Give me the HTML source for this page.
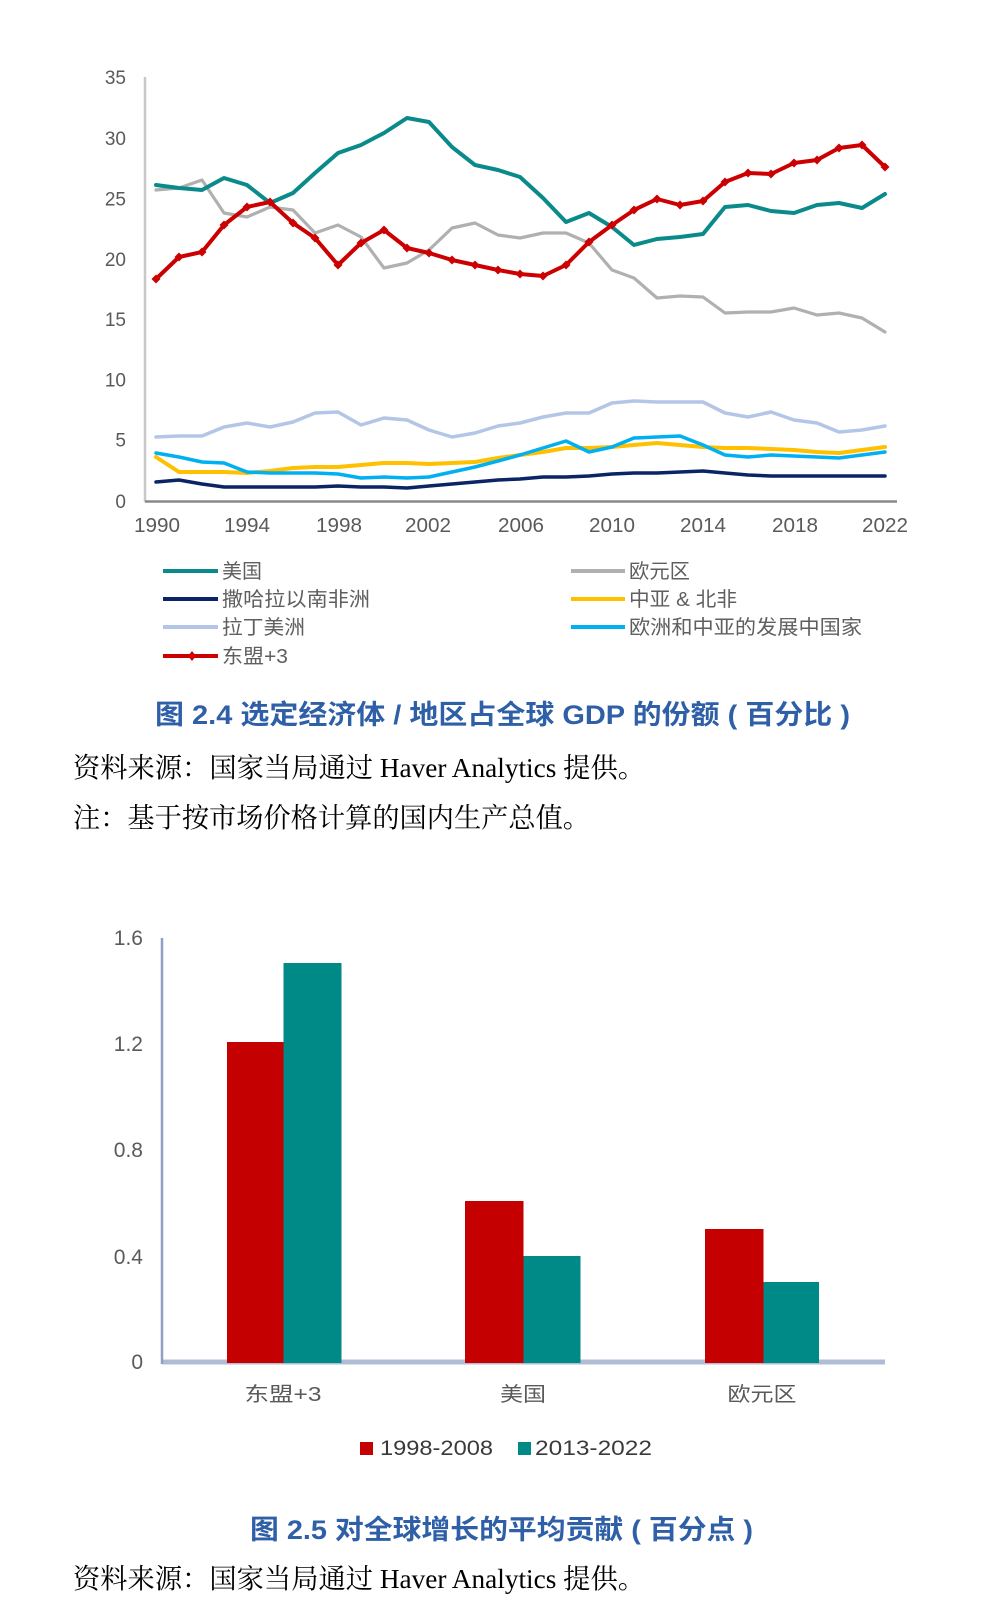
<!DOCTYPE html>
<html>
<head>
<meta charset="utf-8">
<style>
html,body{margin:0;padding:0;background:#fff;}
svg{display:block;}
.tick{font-family:"Liberation Sans","Noto Sans CJK SC",sans-serif;fill:#5a5a5a;}
.leg{font-family:"Liberation Sans","Noto Sans CJK SC",sans-serif;fill:#5f5f5f;font-size:20px;}
.cap{font-family:"Liberation Sans","Noto Sans CJK SC",sans-serif;fill:#2f5fa7;font-weight:bold;font-size:27px;}
.src{font-family:"Liberation Serif","Noto Serif CJK SC",serif;fill:#000;font-size:27.5px;}
</style>
</head>
<body>
<svg width="992" height="1624" viewBox="0 0 992 1624" xmlns="http://www.w3.org/2000/svg">
<defs>
<marker id="dm" viewBox="0 0 10 10" refX="5" refY="5" markerWidth="9" markerHeight="9" markerUnits="userSpaceOnUse">
<path d="M5 0 L10 5 L5 10 L0 5Z" fill="#cc0000"/>
</marker>
</defs>
<rect width="992" height="1624" fill="#fff"/>

<!-- ===== Chart 1 ===== -->
<line x1="145" y1="77" x2="145" y2="502" stroke="#c8c8c8" stroke-width="2.5"/>
<line x1="145" y1="501.5" x2="897" y2="501.5" stroke="#8a8a8a" stroke-width="2.5"/>

<g class="tick" font-size="19" text-anchor="end">
<text x="126" y="84">35</text>
<text x="126" y="145">30</text>
<text x="126" y="205.5">25</text>
<text x="126" y="266">20</text>
<text x="126" y="326">15</text>
<text x="126" y="386.5">10</text>
<text x="126" y="446.5">5</text>
<text x="126" y="508">0</text>
</g>
<g class="tick" font-size="20" text-anchor="middle">
<text x="157" y="532" textLength="46" lengthAdjust="spacingAndGlyphs">1990</text>
<text x="247" y="532" textLength="46" lengthAdjust="spacingAndGlyphs">1994</text>
<text x="339" y="532" textLength="46" lengthAdjust="spacingAndGlyphs">1998</text>
<text x="428" y="532" textLength="46" lengthAdjust="spacingAndGlyphs">2002</text>
<text x="521" y="532" textLength="46" lengthAdjust="spacingAndGlyphs">2006</text>
<text x="612" y="532" textLength="46" lengthAdjust="spacingAndGlyphs">2010</text>
<text x="703" y="532" textLength="46" lengthAdjust="spacingAndGlyphs">2014</text>
<text x="795" y="532" textLength="46" lengthAdjust="spacingAndGlyphs">2018</text>
<text x="885" y="532" textLength="46" lengthAdjust="spacingAndGlyphs">2022</text>
</g>

<g fill="none" stroke-linejoin="round" stroke-linecap="round">
<!-- Eurozone gray -->
<polyline stroke="#b0b0b0" stroke-width="3.2" points="156,190 179,188 202,180 224,213 247,217 270,207 293,210 315,233 338,225 361,237 384,268 407,263 429,250 452,228 475,223 498,235 520,238 543,233 566,233 589,243 612,270 634,278 657,298 680,296 703,297 725,313 748,312 771,312 794,308 817,315 839,313 862,318 885,332"/>
<!-- US teal -->
<polyline stroke="#0a8a8a" stroke-width="4" points="156,185 179,188 202,190 224,178 247,185 270,203 293,193 315,173 338,153 361,145 384,133 407,118 429,122 452,147 475,165 498,170 520,177 543,198 566,222 589,213 612,227 634,245 657,239 680,237 703,234 725,207 748,205 771,211 794,213 817,205 839,203 862,208 885,194"/>
<!-- Latin America light blue -->
<polyline stroke="#b4c6e7" stroke-width="3.5" points="156,437 179,436 202,436 224,427 247,423 270,427 293,422 315,413 338,412 361,425 384,418 407,420 429,430 452,437 475,433 498,426 520,423 543,417 566,413 589,413 612,403 634,401 657,402 680,402 703,402 725,413 748,417 771,412 794,420 817,423 839,432 862,430 885,426"/>
<!-- Sub-Saharan navy -->
<polyline stroke="#0a2466" stroke-width="3.5" points="156,482 179,480 202,484 224,487 247,487 270,487 293,487 315,487 338,486 361,487 384,487 407,488 429,486 452,484 475,482 498,480 520,479 543,477 566,477 589,476 612,474 634,473 657,473 680,472 703,471 725,473 748,475 771,476 794,476 817,476 839,476 862,476 885,476"/>
<!-- Yellow -->
<polyline stroke="#ffc000" stroke-width="4" points="156,457 179,472 202,472 224,472 247,473 270,471 293,468 315,467 338,467 361,465 384,463 407,463 429,464 452,463 475,462 498,458 520,455 543,452 566,448 589,448 612,447 634,445 657,443 680,445 703,447 725,448 748,448 771,449 794,450 817,452 839,453 862,450 885,447"/>
<!-- Cyan -->
<polyline stroke="#00b0f0" stroke-width="3.5" points="156,453 179,457 202,462 224,463 247,472 270,473 293,473 315,473 338,474 361,478 384,477 407,478 429,477 452,472 475,467 498,461 520,455 543,448 566,441 589,452 612,447 634,438 657,437 680,436 703,445 725,455 748,457 771,455 794,456 817,457 839,458 862,455 885,452"/>
<!-- ASEAN+3 red -->
<polyline stroke="#cc0000" stroke-width="4" marker-start="url(#dm)" marker-mid="url(#dm)" marker-end="url(#dm)" points="156,279 179,257 202,252 224,225 247,207 270,202 293,223 315,238 338,265 361,243 384,230 407,248 429,253 452,260 475,265 498,270 520,274 543,276 566,265 589,242 612,225 634,210 657,199 680,205 703,201 725,182 748,173 771,174 794,163 817,160 839,148 862,145 885,167"/>
</g>

<!-- Legend chart 1 -->
<line x1="163" y1="571" x2="218" y2="571" stroke="#0a8a8a" stroke-width="4"/>
<line x1="163" y1="599" x2="218" y2="599" stroke="#0a2466" stroke-width="4"/>
<line x1="163" y1="627" x2="218" y2="627" stroke="#b4c6e7" stroke-width="4"/>
<line x1="163" y1="656" x2="218" y2="656" stroke="#cc0000" stroke-width="4"/>
<path d="M192 651 L196 656 L192 661 L188 656Z" fill="#cc0000"/>
<text class="leg" x="222" y="578" textLength="40" lengthAdjust="spacingAndGlyphs">美国</text>
<text class="leg" x="222" y="606" textLength="148" lengthAdjust="spacingAndGlyphs">撒哈拉以南非洲</text>
<text class="leg" x="222" y="634" textLength="83" lengthAdjust="spacingAndGlyphs">拉丁美洲</text>
<text class="leg" x="222" y="663" textLength="66" lengthAdjust="spacingAndGlyphs">东盟+3</text>

<line x1="571" y1="571" x2="625" y2="571" stroke="#b0b0b0" stroke-width="4"/>
<line x1="571" y1="599" x2="625" y2="599" stroke="#ffc000" stroke-width="4"/>
<line x1="571" y1="627" x2="625" y2="627" stroke="#00b0f0" stroke-width="4"/>
<text class="leg" x="629" y="578" textLength="61" lengthAdjust="spacingAndGlyphs">欧元区</text>
<text class="leg" x="629" y="606" textLength="108" lengthAdjust="spacingAndGlyphs">中亚 &amp; 北非</text>
<text class="leg" x="629" y="634" textLength="233" lengthAdjust="spacingAndGlyphs">欧洲和中亚的发展中国家</text>

<!-- Caption 1 -->
<text class="cap" x="155" y="724" textLength="695" lengthAdjust="spacingAndGlyphs">图 2.4  选定经济体 / 地区占全球 GDP 的份额 ( 百分比 )</text>
<text class="src" x="73" y="777" textLength="572" lengthAdjust="spacingAndGlyphs">资料来源：国家当局通过 Haver Analytics 提供。</text>
<text class="src" x="73" y="827" textLength="517" lengthAdjust="spacingAndGlyphs">注：基于按市场价格计算的国内生产总值。</text>

<!-- ===== Chart 2 ===== -->
<line x1="885" y1="1362" x2="162" y2="1362" stroke="#b0bcd4" stroke-width="5"/>
<line x1="162" y1="938" x2="162" y2="1364" stroke="#8fa0c6" stroke-width="2.5"/>

<g class="tick" font-size="21" text-anchor="end">
<text x="143" y="945">1.6</text>
<text x="143" y="1051">1.2</text>
<text x="143" y="1157">0.8</text>
<text x="143" y="1264">0.4</text>
<text x="143" y="1369">0</text>
</g>

<!-- bars -->
<rect x="227" y="1042" width="56.5" height="321" fill="#c40000"/>
<rect x="283.5" y="963" width="58" height="400" fill="#008a87"/>
<rect x="465" y="1201" width="58.5" height="162" fill="#c40000"/>
<rect x="523.5" y="1256" width="57" height="107" fill="#008a87"/>
<rect x="705" y="1229" width="58.5" height="134" fill="#c40000"/>
<rect x="763.5" y="1282" width="55.5" height="81" fill="#008a87"/>

<g class="tick" font-size="20" text-anchor="middle">
<text x="283" y="1401" textLength="77" lengthAdjust="spacingAndGlyphs">东盟+3</text>
<text x="523" y="1401" textLength="46" lengthAdjust="spacingAndGlyphs">美国</text>
<text x="762" y="1401" textLength="69" lengthAdjust="spacingAndGlyphs">欧元区</text>
</g>

<!-- legend chart 2 -->
<rect x="360" y="1442" width="13" height="13" fill="#c40000"/>
<text class="tick" x="380" y="1455" font-size="21" fill="#3a3a3a" style="fill:#3a3a3a" textLength="113" lengthAdjust="spacingAndGlyphs">1998-2008</text>
<rect x="518" y="1442" width="13" height="13" fill="#008a87"/>
<text class="tick" x="535" y="1455" font-size="21" style="fill:#3a3a3a" textLength="117" lengthAdjust="spacingAndGlyphs">2013-2022</text>

<!-- Caption 2 -->
<text class="cap" x="250" y="1539" textLength="503" lengthAdjust="spacingAndGlyphs">图 2.5  对全球增长的平均贡献 ( 百分点 )</text>
<text class="src" x="73" y="1588" textLength="572" lengthAdjust="spacingAndGlyphs">资料来源：国家当局通过 Haver Analytics 提供。</text>
</svg>
</body>
</html>
